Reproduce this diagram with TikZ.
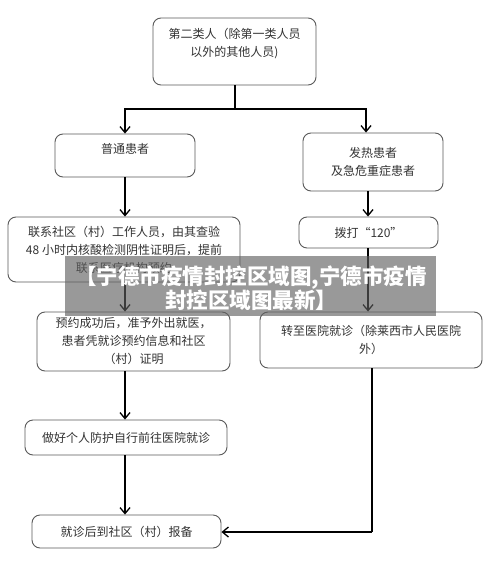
\documentclass[tikz,border=0pt]{standalone}
\usepackage{fontspec}
\setmainfont{Noto Sans CJK SC}
\usetikzlibrary{arrows.meta,calc}
\definecolor{txt}{HTML}{333333}
\definecolor{edge}{HTML}{5A5A5A}
\definecolor{banner}{HTML}{5F5F5F}
\begin{document}
\begin{tikzpicture}[x=1pt,y=-1pt,
  box/.style={draw=edge,line width=0.9pt,rounded corners=8pt,align=center,
    text=txt,font=\fontsize{12}{18}\selectfont,inner sep=0pt,anchor=center},
  conn/.style={line width=1.4pt,black},
  arr/.style={conn,-{Straight Barb[length=6pt,width=10pt,line width=1.3pt]}}]
\useasboundingbox[fill=white] (0,0) rectangle (500,573);
% boxes
\node[box,minimum width=163pt,minimum height=67pt] (top) at (234.5,51.5)
  {第二类人（除第一类人员\\以外的其他人员)\\\mbox{}};
\node[box,minimum width=140pt,minimum height=43pt] (pt) at (125,155.5) {普通患者\\[-4pt]\mbox{}};
\node[box,minimum width=140pt,minimum height=58pt] (fr) at (373,162) {发热患者\\及急危重症患者};
\node[box,minimum width=232pt,minimum height=65pt] (lx) at (124,249.5)
  {联系社区（村）工作人员，由其查验\\48 小时内核酸检测阴性证明后，提前\\联系医疗机构预约};
\node[box,minimum width=139pt,minimum height=31pt] (bd) at (368.5,232.5) {拨打“120”};
\node[box,minimum width=193pt,minimum height=59pt] (yy) at (133.5,341.5)
  {预约成功后，准予外出就医，\\患者凭就诊预约信息和社区\\（村）证明};
\node[box,minimum width=222pt,minimum height=56pt] (zy) at (371,340)
  {转至医院就诊（除莱西市人民医院\\外）};
\node[box,minimum width=202pt,minimum height=35pt] (zh) at (126,437.5) {做好个人防护自行前往医院就诊};
\node[box,minimum width=189pt,minimum height=33pt] (jz) at (126.5,531.5) {就诊后到社区（村）报备};
% column coordinates
\coordinate (xl) at (125,0);
\coordinate (xr) at (368,0);
\coordinate (split) at (235,109);
\coordinate (corner) at (372,532);
% connectors
\draw[conn] (top.south -| split) -- (split);
\draw[arr] (split) -| (pt.north -| xl);
\draw[arr] (split) -| (fr.north -| 366,0);
\draw[arr] (pt.south -| xl) -- (lx.north -| xl);
\draw[arr] (fr.south -| xr) -- (bd.north -| xr);
\draw[arr] (lx.south -| xl) -- (yy.north -| xl);
\draw[arr] (bd.south -| xr) -- (zy.north -| xr);
\draw[arr] (yy.south -| xl) -- (zh.north -| xl);
\draw[arr] (zh.south -| xl) -- (jz.north -| xl);
\draw[conn] (zy.south -| corner) -- (corner);
\draw[arr] (corner) -- (jz.east |- corner);
% banner overlay
\fill[banner,opacity=0.63] (65,256) rectangle (436,316);
\node[text=white,font=\fontsize{21.5}{21}\selectfont\bfseries,align=center,inner sep=0pt] (ban) at (251,288)
  {【宁德市疫情封控区域图,宁德市疫情\\封控区域图最新】};
\end{tikzpicture}
\end{document}
